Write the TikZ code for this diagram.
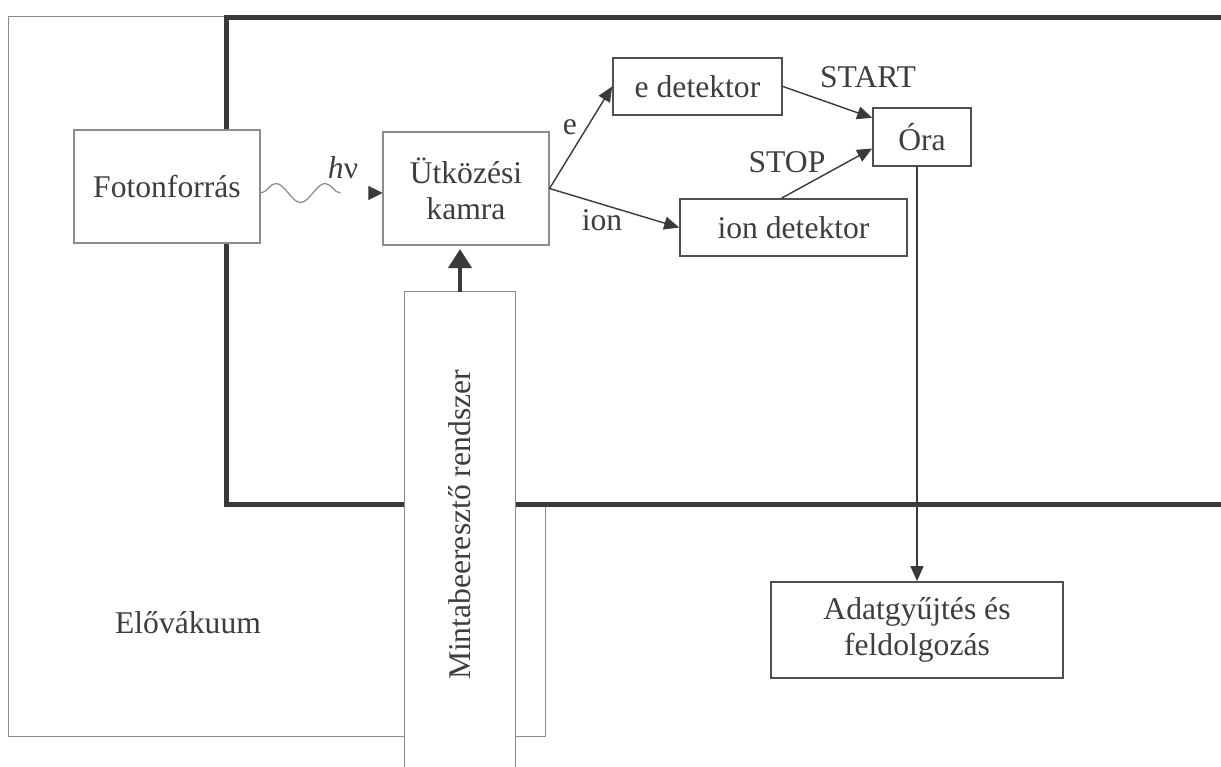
\documentclass[tikz,border=0pt]{standalone}
\usepackage{fontspec}
\setmainfont{Liberation Serif}
\usepackage{xcolor}
\definecolor{inkGray}{HTML}{3A3A3A}
\definecolor{lineGray}{HTML}{505050}
\definecolor{paleGray}{HTML}{8C8C8C}
\definecolor{textGray}{HTML}{3E3E3E}
\usetikzlibrary{
    arrows.meta,
    decorations.pathmorphing,
    decorations.markings,
    calc
}
\tikzset{
    % Base style for all boxes
    box base/.style={
        font=\fontsize{18}{20.5}\selectfont,
        align=center,
        text=textGray,
        rectangle,
        inner sep=2pt,
        fill=white,
    },
    % Light boxes - source, chamber, vacuum, inlet
    softbox/.style={
        box base,
        draw=paleGray,
        line width=0.6pt,
    },
    % Darker boxes - detectors, clock, data
    hardbox/.style={
        box base,
        draw=lineGray,
        line width=1pt,
    },
    % Free text labels
    tag/.style={
        font=\fontsize{18}{20.5}\selectfont,
        text=textGray,
        inner sep=1pt,
    },
    % Vacuum chamber wall
    wall/.style={
        draw=inkGray,
        line width=0.1cm,
    },
    % Plain arrow
    arrow/.style={
        -{Triangle[length=0.3cm, width=0.26cm]},
        line width=0.8pt,
        draw=inkGray,
    },
    % Bold arrow for the sample inlet
    arrow thick/.style={
        -{Triangle[length=0.38cm, width=0.46cm]},
        line width=2.2pt,
        draw=inkGray,
    },
    % Wavy photon line, with a gap before its tip
    photon/.style={
        preaction={
            draw=paleGray,
            line width=0.7pt,
            decorate,
            decoration={snake, segment length=0.985cm, amplitude=0.19cm, post length=0.48cm, post=moveto},
        },
        postaction={
            decorate,
            decoration={markings, mark=at position 1 with {\arrow[inkGray]{Triangle[length=0.28cm, width=0.28cm]}}},
        },
    },
}

\begin{document}
\begin{tikzpicture}[x=0.02cm, y=-0.02cm]
    \useasboundingbox (0,0) rectangle (1221,767);

    % outer vacuum and chamber
    \node (elobox) [softbox, minimum width=10.76cm, minimum height=14.42cm] at (277,376.5) {};
    \fill [white] (226,18) rectangle (1240,504);
    \draw [wall] (1240,18) -- (226,18) -- (226,504) -- (1240,504);

    \node (foton) [softbox, minimum width=3.72cm, minimum height=2.26cm] at (167,186.5) {Fotonforrás};
    \node (kamra) [softbox, minimum width=3.32cm, minimum height=2.26cm] at (466,188.5) {Ütközési\\kamra};
    \node (edet) [hardbox, minimum width=3.38cm, minimum height=1.14cm] at (697.5,86.5) {e detektor};
    \node (iondet) [hardbox, minimum width=4.54cm, minimum height=1.14cm] at (793.5,227.5) {ion detektor};
    \node (ora) [hardbox, minimum width=1.96cm, minimum height=1.16cm] at (922,137) {Óra};
    \node (adat) [hardbox, minimum width=5.84cm, minimum height=1.92cm] at (917,630) {Adatgyűjtés és\\feldolgozás};

    \node (hv) [tag] at (343,168) {\textit{h}ν};
    \node (elabel) [tag] at (570,127) {e};
    \node (ionlabel) [tag] at (602,220) {ion};
    \node (startlabel) [tag] at (868,77) {START};
    \node (stoplabel) [tag] at (787,162) {STOP};
    \node (elo) [tag] at (188,623) {Elővákuum};

    \path [photon] ([yshift=-0.13cm]foton.east) -- ([yshift=-0.09cm]kamra.west);
    \draw [arrow] (kamra.east) -- (edet.west);
    \draw [arrow] (kamra.east) -- (iondet.west);
    \draw [arrow] (edet.east) -- (ora.159);
    \draw [arrow] (iondet.112) -- (ora.193);
    \draw [arrow] (adat.north |- ora.south) -- (adat.north);

    % sample inlet on top of the walls
    \node (minta) [box base, rotate=90, minimum width=10.16cm, minimum height=2.2cm] at (460,546) {\hspace*{0.84cm}Mintabeeresztő rendszer};
    \draw [paleGray, line width=0.6pt] (minta.south west) -- (minta.south east) -- (minta.north east) -- (minta.north west);
    \draw [arrow thick] (minta.east) -- ([yshift=-2pt]minta.east |- kamra.south);
\end{tikzpicture}
\end{document}
